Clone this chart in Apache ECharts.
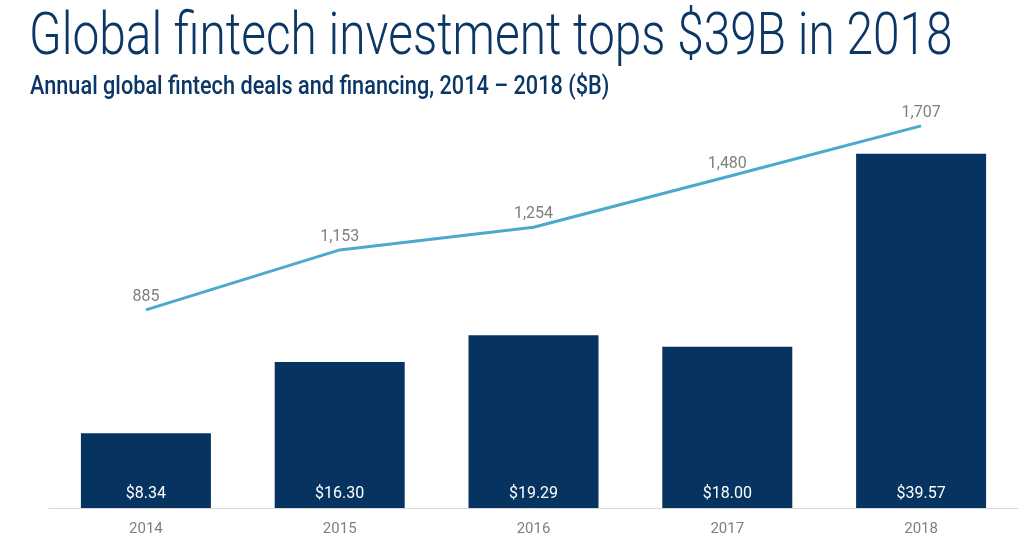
<!DOCTYPE html>
<html>
<head>
<meta charset="utf-8">
<script src="https://cdn.jsdelivr.net/npm/echarts@6/dist/echarts.min.js"></script>
<style>html,body{margin:0;padding:0;background:#fff}#c{width:1024px;height:540px}</style>
</head>
<body>
<div id="c"></div>
<script>
var titleText = 'Global fintech investment tops $39B in 2018';
var subtitleText = 'Annual global fintech deals and financing, 2014 \u2013 2018 ($B)';
var years = ['2014', '2015', '2016', '2017', '2018'];
var investment = [8.34, 16.30, 19.29, 18.00, 39.57];
var deals = [885, 1153, 1254, 1480, 1707];

var chart = echarts.init(document.getElementById('c'));
chart.setOption({
  animation: false,
  graphic: [
    {type: 'text', left: 29, top: 9, scaleX: 0.797, style: {text: titleText, font: '300 60px Roboto', fill: '#0b3766'}},
    {type: 'text', left: 30, top: 75, scaleX: 0.868, style: {text: subtitleText, font: '500 25px Roboto', fill: '#0b3766'}}
  ],
  grid: {left: 49, right: 6, top: 114, bottom: 32, containLabel: false},
  xAxis: {
    type: 'category', data: years,
    axisLine: {show: true, lineStyle: {color: '#d9d9d9', width: 1}},
    axisTick: {show: false},
    axisLabel: {color: '#7f7f7f', fontSize: 15, fontFamily: 'Roboto', margin: 14}
  },
  yAxis: [
    {type: 'value', min: 0, max: 44, show: false, splitLine: {show: false}},
    {type: 'value', min: 0, max: 1760, show: false, splitLine: {show: false}}
  ],
  series: [
    {
      type: 'bar', data: investment, barWidth: 130, yAxisIndex: 0,
      itemStyle: {color: '#06335f'},
      label: {show: true, position: 'insideBottom', distance: 6, color: '#ffffff', fontSize: 16, fontFamily: 'Roboto',
        formatter: function (p) { return '$' + p.value.toFixed(2); }}
    },
    {
      type: 'line', data: deals, yAxisIndex: 1, symbol: 'circle', symbolSize: 0, showSymbol: true,
      lineStyle: {color: '#4aa9cc', width: 3},
      itemStyle: {color: '#4aa9cc'},
      label: {show: true, position: 'top', distance: 5, color: '#7f7f7f', fontSize: 16, fontFamily: 'Roboto',
        formatter: function (p) { return p.value.toLocaleString('en-US'); }}
    }
  ]
});
</script>
</body>
</html>
